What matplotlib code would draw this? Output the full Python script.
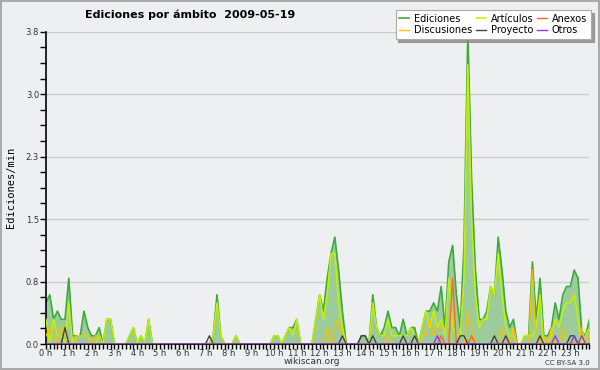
import numpy as np
import matplotlib
matplotlib.use("Agg")
import matplotlib.pyplot as plt
from matplotlib.ticker import MultipleLocator, FixedLocator, FormatStrFormatter

# valores por tramos de 10 minutos (6 por hora), en ediciones/min
ediciones = [
    0.5, 0.6, 0.3, 0.4, 0.3, 0.3,   # 0 h
    0.8, 0.1, 0.1, 0.1, 0.4, 0.2,   # 1 h
    0.1, 0.1, 0.2, 0.0, 0.3, 0.3,   # 2 h
    0.0, 0.0, 0.0, 0.0, 0.1, 0.2,   # 3 h
    0.0, 0.1, 0.0, 0.3, 0.0, 0.0,   # 4 h
    0.0, 0.0, 0.0, 0.0, 0.0, 0.0,   # 5 h
    0.0, 0.0, 0.0, 0.0, 0.0, 0.0,   # 6 h
    0.0, 0.0, 0.1, 0.6, 0.1, 0.0,   # 7 h
    0.0, 0.0, 0.1, 0.0, 0.0, 0.0,   # 8 h
    0.0, 0.0, 0.0, 0.0, 0.0, 0.0,   # 9 h
    0.1, 0.1, 0.0, 0.1, 0.2, 0.2,   # 10 h
    0.3, 0.0, 0.0, 0.0, 0.0, 0.3,   # 11 h
    0.6, 0.4, 0.8, 1.1, 1.3, 0.9,   # 12 h
    0.4, 0.0, 0.0, 0.0, 0.0, 0.1,   # 13 h
    0.1, 0.0, 0.6, 0.2, 0.1, 0.2,   # 14 h
    0.4, 0.2, 0.2, 0.1, 0.3, 0.1,   # 15 h
    0.2, 0.2, 0.0, 0.2, 0.4, 0.4,   # 16 h
    0.5, 0.4, 0.7, 0.2, 1.0, 1.2,   # 17 h
    0.6, 0.2, 1.2, 3.8, 2.0, 0.9,   # 18 h
    0.3, 0.3, 0.4, 0.7, 0.6, 1.3,   # 19 h
    0.9, 0.4, 0.2, 0.3, 0.0, 0.0,   # 20 h
    0.1, 0.1, 1.0, 0.3, 0.8, 0.1,   # 21 h
    0.1, 0.2, 0.5, 0.3, 0.6, 0.7,   # 22 h
    0.7, 0.9, 0.8, 0.15, 0.1, 0.3,  # 23 h
]
articulos = [
    0.3, 0.0, 0.3, 0.1, 0.1, 0.0,
    0.5, 0.0, 0.1, 0.1, 0.1, 0.1,
    0.0, 0.0, 0.1, 0.0, 0.3, 0.3,
    0.0, 0.0, 0.0, 0.0, 0.1, 0.2,
    0.0, 0.1, 0.0, 0.3, 0.0, 0.0,
    0.0, 0.0, 0.0, 0.0, 0.0, 0.0,
    0.0, 0.0, 0.0, 0.0, 0.0, 0.0,
    0.0, 0.0, 0.1, 0.5, 0.1, 0.0,
    0.0, 0.0, 0.1, 0.0, 0.0, 0.0,
    0.0, 0.0, 0.0, 0.0, 0.0, 0.0,
    0.1, 0.1, 0.0, 0.1, 0.2, 0.1,
    0.3, 0.0, 0.0, 0.0, 0.0, 0.3,
    0.6, 0.3, 0.6, 1.1, 1.1, 0.5,
    0.2, 0.0, 0.0, 0.0, 0.0, 0.0,
    0.0, 0.0, 0.5, 0.2, 0.1, 0.1,
    0.3, 0.1, 0.1, 0.1, 0.1, 0.1,
    0.2, 0.1, 0.0, 0.2, 0.4, 0.2,
    0.4, 0.2, 0.3, 0.1, 0.8, 0.2,
    0.1, 0.1, 0.8, 3.4, 1.5, 0.6,
    0.2, 0.3, 0.3, 0.7, 0.6, 1.1,
    0.6, 0.2, 0.1, 0.1, 0.0, 0.0,
    0.1, 0.1, 0.1, 0.2, 0.6, 0.0,
    0.0, 0.1, 0.3, 0.2, 0.4, 0.5,
    0.5, 0.6, 0.3, 0.0, 0.1, 0.2,
]
discusiones = [
    0.1, 0.2, 0.1, 0.0, 0.2, 0.1,
    0.0, 0.0, 0.1, 0.1, 0.1, 0.1,
    0.0, 0.1, 0.1, 0.0, 0.0, 0.0,
    0.0, 0.0, 0.0, 0.0, 0.0, 0.0,
    0.0, 0.0, 0.0, 0.0, 0.0, 0.0,
    0.0, 0.0, 0.0, 0.0, 0.0, 0.0,
    0.0, 0.0, 0.0, 0.0, 0.0, 0.0,
    0.0, 0.0, 0.0, 0.0, 0.0, 0.0,
    0.0, 0.0, 0.0, 0.0, 0.0, 0.0,
    0.0, 0.0, 0.0, 0.0, 0.0, 0.0,
    0.0, 0.0, 0.0, 0.0, 0.0, 0.0,
    0.0, 0.0, 0.0, 0.0, 0.0, 0.0,
    0.0, 0.0, 0.2, 0.0, 0.2, 0.3,
    0.1, 0.0, 0.0, 0.0, 0.0, 0.0,
    0.0, 0.0, 0.0, 0.0, 0.0, 0.0,
    0.1, 0.0, 0.0, 0.0, 0.0, 0.0,
    0.0, 0.0, 0.0, 0.1, 0.1, 0.3,
    0.1, 0.2, 0.2, 0.2, 0.2, 0.0,
    0.0, 0.0, 0.0, 0.4, 0.2, 0.0,
    0.0, 0.0, 0.0, 0.0, 0.0, 0.0,
    0.2, 0.0, 0.0, 0.2, 0.0, 0.0,
    0.0, 0.0, 0.9, 0.0, 0.0, 0.1,
    0.0, 0.2, 0.0, 0.0, 0.2, 0.0,
    0.0, 0.0, 0.0, 0.2, 0.0, 0.1,
]
# series casi vacias: {tramo: valor}
anexos_pts = {104: 0.1, 107: 0.8, 112: 0.1}
proyecto_pts = {5: 0.2, 43: 0.1, 78: 0.1, 83: 0.1, 84: 0.1, 86: 0.1, 94: 0.1,
                97: 0.1, 109: 0.1, 110: 0.1, 118: 0.1, 121: 0.1, 130: 0.1,
                138: 0.1, 139: 0.1}
otros_pts = {103: 0.1, 134: 0.1, 139: 0.1, 141: 0.1}

horas = [f"{h} h" for h in range(24)]

n = len(ediciones)
x = np.arange(n) / 6.0

def serie(pts):
    v = np.zeros(n)
    for k, val in pts.items():
        v[k] = val
    return v

anexos = serie(anexos_pts)
proyecto = serie(proyecto_pts)
otros = serie(otros_pts)

bg = '#eeeff0'
fig = plt.figure(figsize=(6, 3.7), dpi=100, facecolor=bg)
fig.patch.set_edgecolor('#aaaaaa')
fig.patch.set_linewidth(1.5)
ax = fig.add_axes([46 / 600, 26 / 370, 543.4 / 600, 312.3 / 370])
ax.set_facecolor(bg)

ymax = 3.8
for t in np.linspace(0, ymax, 6)[1:]:
    ax.axhline(t, color='#cccccc', lw=1, zorder=0)

ax.fill_between(x, ediciones, 0, color='#9ccb9c', lw=0, zorder=1)
ax.plot(x, ediciones, color='#3cab3c', lw=1.2, zorder=2, label='Ediciones')
ax.plot(x, articulos, color='#c6f000', lw=1.1, zorder=3, label='Artículos')
ax.plot(x, discusiones, color='#f5c400', lw=1.0, zorder=4, label='Discusiones')
ax.plot(x, anexos, color='#ff6a1a', lw=1.0, zorder=5, label='Anexos')
ax.plot(x, proyecto, color='#444444', lw=1.0, zorder=6, label='Proyecto')
ax.plot(x, otros, color='#8a3cf0', lw=1.0, zorder=7, label='Otros')

ax.set_xlim(0, x[-1])
ax.set_ylim(0, ymax)
ax.spines['top'].set_visible(False)
ax.spines['right'].set_visible(False)
ax.spines['left'].set_linewidth(1.2)
ax.spines['bottom'].set_linewidth(1.2)

ax.xaxis.set_major_locator(FixedLocator(range(24)))
ax.set_xticklabels(horas)
ax.xaxis.set_minor_locator(MultipleLocator(1 / 6))
ax.tick_params(axis='x', which='both', length=3.5, width=1, pad=0,
               labelsize=6, colors='#000000', labelcolor='#333333')
ax.yaxis.set_major_locator(FixedLocator(np.linspace(0, ymax, 6)))
ax.yaxis.set_major_formatter(FormatStrFormatter('%.1f'))
ax.yaxis.set_minor_locator(MultipleLocator(ymax / 20))
ax.tick_params(axis='y', which='both', length=4, width=1, pad=1,
               labelsize=6, labelcolor='#333333')

ax.set_ylabel('Ediciones/min', fontsize=7.5, family='DejaVu Sans Mono', labelpad=7)

fig.text(85 / 600, 1 - 15 / 370, 'Ediciones por ámbito  2009-05-19',
         fontsize=8, fontweight='bold', ha='left', va='center')
fig.text(312 / 600, 1 - 362 / 370, 'wikiscan.org', fontsize=6.5,
         ha='center', va='center', color='#333333')
fig.text(590 / 600, 1 - 363 / 370, 'CC BY-SA 3.0', fontsize=5,
         ha='right', va='center', color='#333333')

h, l = ax.get_legend_handles_labels()
orden = [0, 2, 1, 4, 3, 5]
leg = fig.legend([h[i] for i in orden], [l[i] for i in orden], ncol=3,
                 loc='upper right', bbox_to_anchor=(591 / 600, 1 - 10 / 370),
                 fontsize=7, handlelength=1.0, handletextpad=0.5,
                 columnspacing=0.4, labelspacing=0.15, borderpad=0.4,
                 borderaxespad=0, fancybox=False, shadow={'color': '#888888', 'alpha': 0.8},
                 framealpha=1)
leg.get_frame().set_edgecolor('#aaaaaa')
leg.get_frame().set_linewidth(0.8)

fig.savefig('out.png', dpi=100, facecolor=bg, edgecolor='#aaaaaa')
